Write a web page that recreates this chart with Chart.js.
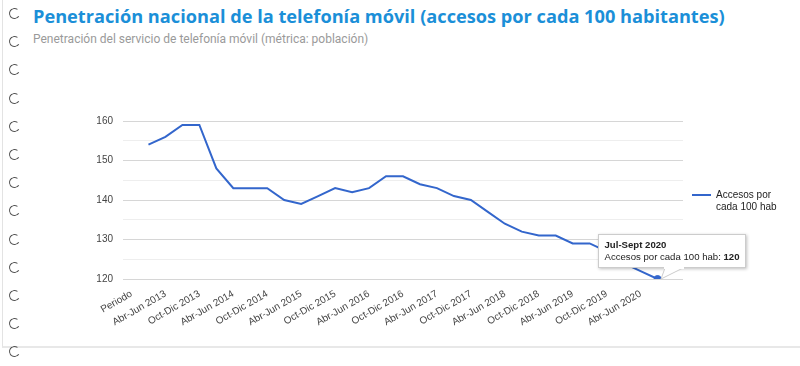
<!DOCTYPE html>
<html>
<head>
<meta charset="utf-8">
<script src="https://cdn.jsdelivr.net/npm/chart.js@4.4.0/dist/chart.umd.min.js"></script>
<style>
body { margin: 0; width: 800px; height: 366px; background: #fff; position: relative; overflow: hidden; font-family: "Liberation Sans", Arial, sans-serif; }
.frame { position: absolute; left: 2px; top: 0; width: 798px; height: 346px; border-left: 1px solid #e3e3e3; border-bottom: 2px solid #e8e8e8; }
.ring { position: absolute; left: 9px; width: 9px; height: 9px; border: 1.5px solid #555; border-right-color: transparent; border-radius: 50%; transform: rotate(-10deg); }
h1 { position: absolute; left: 33px; top: 4px; margin: 0; font: bold 18.2px "Open Sans", sans-serif; color: #1b8fd8; white-space: nowrap; }
h2 { position: absolute; left: 33px; top: 32px; margin: 0; font: normal 12px "Roboto", sans-serif; color: #9a9a9a; white-space: nowrap; }
#myChart { position: absolute; left: 0; top: 0; }
.legend { position: absolute; left: 692px; top: 189px; font-size: 10px; line-height: 12px; color: #222; }
.legend i { position: absolute; left: 0; top: 5px; width: 19px; height: 2px; }
.legend span { position: absolute; left: 24px; top: 0; width: 62px; }
#tip { position: absolute; display: none; background: #fff; border: 1px solid #ccc; box-shadow: 1px 1px 3px rgba(0,0,0,0.25); padding: 4px 6px 4px 6px; font-size: 9.6px; line-height: 12px; color: #222; white-space: nowrap; }
#tip svg { position: absolute; left: 0; top: 0; overflow: visible; }
</style>
</head>
<body>
<div class="frame"></div>
<div id="rings"></div>
<h1>Penetración nacional de la telefonía móvil (accesos por cada 100 habitantes)</h1>
<h2>Penetración del servicio de telefonía móvil (métrica: población)</h2>
<canvas id="myChart" width="800" height="366"></canvas>
<div class="legend"></div>
<div id="tip"></div>
<script>
const periods = ['Periodo',
    'Ene-Mar 2013', 'Abr-Jun 2013', 'Jul-Sept 2013', 'Oct-Dic 2013',
    'Ene-Mar 2014', 'Abr-Jun 2014', 'Jul-Sept 2014', 'Oct-Dic 2014',
    'Ene-Mar 2015', 'Abr-Jun 2015', 'Jul-Sept 2015', 'Oct-Dic 2015',
    'Ene-Mar 2016', 'Abr-Jun 2016', 'Jul-Sept 2016', 'Oct-Dic 2016',
    'Ene-Mar 2017', 'Abr-Jun 2017', 'Jul-Sept 2017', 'Oct-Dic 2017',
    'Ene-Mar 2018', 'Abr-Jun 2018', 'Jul-Sept 2018', 'Oct-Dic 2018',
    'Ene-Mar 2019', 'Abr-Jun 2019', 'Jul-Sept 2019', 'Oct-Dic 2019',
    'Ene-Mar 2020', 'Abr-Jun 2020', 'Jul-Sept 2020'];
const accesos = [null,
    154, 156, 159, 159,
    148, 143, 143, 143,
    140, 139, 141, 143,
    142, 143, 146, 146,
    144, 143, 141, 140,
    137, 134, 132, 131,
    131, 129, 129, 127,
    124, 122, 120];
const seriesLabel = 'Accesos por cada 100 hab';
const yTicks = [120, 130, 140, 150, 160];
const lineColor = '#3366cc';

// binder rings on the left edge
const rings = document.getElementById('rings');
for (let k = 0; k < 13; k++) {
    const r = document.createElement('div');
    r.className = 'ring';
    r.style.top = (8 + k * 28.2) + 'px';
    rings.appendChild(r);
}

const legend = document.querySelector('.legend');
legend.innerHTML = `<i style="background:${lineColor}"></i><span>${seriesLabel}</span>`;

const tipEl = document.getElementById('tip');
const renderTip = ({ chart, tooltip }) => {
    if (!tooltip.dataPoints || tooltip.opacity === 0) { tipEl.style.display = 'none'; return; }
    const p = tooltip.dataPoints[0];
    tipEl.innerHTML = `<b>${periods[p.dataIndex]}</b><br>${p.dataset.label}: <b>${p.parsed.y}</b>` +
        `<svg width="1" height="1"><polygon points="66,33 84,33 62,44" fill="#fff" stroke="#ccc"/>` +
        `<line x1="65" y1="33" x2="85" y2="33" stroke="#fff" stroke-width="2"/></svg>`;
    tipEl.style.display = 'block';
    tipEl.style.left = (chart.canvas.offsetLeft + tooltip.caretX - 60) + 'px';
    tipEl.style.top = (chart.canvas.offsetTop + tooltip.caretY - 45) + 'px';
};

const chart = new Chart('myChart', {
    type: 'line',
    data: {
        datasets: [{
            label: seriesLabel,
            data: accesos.map((v, i) => ({ x: i, y: v })),
            borderColor: lineColor,
            backgroundColor: lineColor,
            borderWidth: 2,
            tension: 0,
            pointRadius: 0,
            pointHoverRadius: 3.5,
            pointHoverBackgroundColor: lineColor,
            pointHoverBorderColor: lineColor,
            pointHoverBorderWidth: 1
        }]
    },
    options: {
        responsive: false,
        animation: false,
        events: [],
        layout: { padding: { left: 83, right: 117, top: 121, bottom: 27 } },
        plugins: {
            legend: { display: false },
            tooltip: { enabled: false, external: renderTip }
        },
        scales: {
            x: {
                type: 'linear',
                min: -0.5,
                max: 32.5,
                grid: { display: false },
                border: { display: false },
                afterBuildTicks: s => { s.ticks = periods.map((p, i) => ({ value: i })).filter(t => t.value % 2 === 0); },
                afterFit: s => { s.height = 60; },
                ticks: {
                    autoSkip: false,
                    minRotation: 30,
                    maxRotation: 30,
                    padding: 1,
                    color: '#444',
                    font: { size: 10, family: '"Liberation Sans", Arial' },
                    callback: v => periods[v]
                }
            },
            y: {
                min: 120,
                max: 160,
                afterFit: s => { s.width = 40; },
                border: { display: false },
                grid: {
                    drawTicks: false,
                    color: c => yTicks.includes(c.tick.value) ? '#d6d6d6' : '#eeeeee'
                },
                ticks: {
                    stepSize: 5,
                    padding: 10,
                    color: '#444',
                    font: { size: 10, family: '"Liberation Sans", Arial' },
                    callback: v => yTicks.includes(v) ? v : ''
                }
            }
        }
    }
});

const active = [{ datasetIndex: 0, index: accesos.length - 1 }];
chart.setActiveElements(active);
chart.tooltip.setActiveElements(active, { x: 0, y: 0 });
chart.update();
</script>
</body>
</html>
